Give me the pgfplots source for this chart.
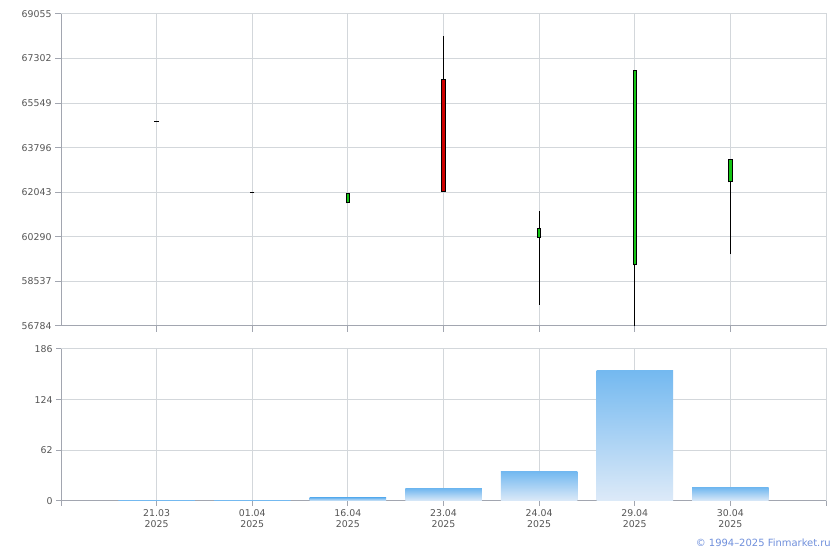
\documentclass[border=0pt]{standalone}
\usepackage{fontspec}
\setmainfont{DejaVu Sans}
\usepackage{pgfplots}
\usepackage{pgfplotstable}
\pgfplotsset{compat=1.18}

\definecolor{gridgray}{HTML}{D3D7DB}
\definecolor{axisgray}{HTML}{A2A6B0}
\definecolor{labelgray}{HTML}{555555}
\definecolor{upgreen}{HTML}{14C414}
\definecolor{downred}{HTML}{CC0000}
\definecolor{bartop}{HTML}{74B9F0}
\definecolor{barbottom}{HTML}{DDEAF8}
\definecolor{copyblue}{HTML}{7090DC}

% daily candles: open, high, low, close
\pgfplotstableread{
x open  high  low   close
0 64835 64835 64835 64835
1 62040 62040 62040 62040
2 61610 62003 61610 62003
3 66486 68202 62067 62067
4 60258 61307 57610 60626
5 59170 66840 56784 66840
6 62435 63339 59603 63339
}\candles

% rising bodies (close above open)
\pgfplotstableread{
x open  close
2 61610 62003
4 60258 60626
5 59170 66840
6 62435 63339
}\upbodies

% falling bodies (close below open)
\pgfplotstableread{
x open  close
3 66486 62067
}\downbodies

% flat days (open equals close)
\pgfplotstableread{
x price
0 64835
1 62040
}\flatdays

\pgfplotsset{
  finstyle/.style={
    scale only axis,
    anchor=south west,
    width=765bp,
    xmin=-1, xmax=7,
    axis x line*=bottom,
    axis y line*=left,
    axis line style={axisgray, line width=1bp},
    grid=major,
    major grid style={gridgray, line width=1bp},
    tick align=outside,
    xtick pos=lower, ytick pos=left,
    major tick length=6bp,
    tick style={axisgray, line width=1bp},
    ticklabel style={font=\fontsize{9.4}{11.5}\selectfont, text=labelgray},
    scaled y ticks=false,
    clip=false,
    after end axis/.code={
      \draw[gridgray, line width=1bp] (rel axis cs:0,1) -- (rel axis cs:1,1) -- (rel axis cs:1,0);
    },
  },
  segment/.style={
    draw=none, mark=none,
    error bars/.cd, y dir=plus, y explicit, error mark=none,
    error bar style={#1},
  },
  volbar/.style={
    ybar, bar shift=0pt, bar width=0.8, draw=none,
    top color=bartop, bottom color=barbottom,
  },
}

\begin{document}
\begin{tikzpicture}
\useasboundingbox[fill=white] (0,0) rectangle (840bp,550bp);

% price candles
\begin{axis}[finstyle,
  at={(61bp,224bp)}, height=312bp,
  ymin=56784, ymax=69055,
  ytick={56784,58537,60290,62043,63796,65549,67302,69055},
  yticklabels={56784,58537,60290,62043,63796,65549,67302,69055},
  xtick={0,...,6}, xticklabels={},
]
% wicks
\addplot[segment={draw=black, line width=1bp}]
  table[x=x, y=low, y error plus expr=\thisrow{high}-\thisrow{low}] {\candles};
% body outlines
\addplot[segment={draw=black, line width=4.5bp}]
  table[x=x, y=open, y error plus expr=\thisrow{close}-\thisrow{open}] {\upbodies};
\addplot[segment={draw=black, line width=4.5bp}]
  table[x=x, y=close, y error plus expr=\thisrow{open}-\thisrow{close}] {\downbodies};
% body fills
\addplot[segment={draw=upgreen, line width=2.5bp, shorten <=1bp, shorten >=1bp}]
  table[x=x, y=open, y error plus expr=\thisrow{close}-\thisrow{open}] {\upbodies};
\addplot[segment={draw=downred, line width=2.5bp, shorten <=1bp, shorten >=1bp}]
  table[x=x, y=close, y error plus expr=\thisrow{open}-\thisrow{close}] {\downbodies};
% flat days
\addplot[only marks, mark=-, mark size=2.2bp, mark options={black, line width=1bp}]
  table[x=x, y=price] {\flatdays};
\end{axis}

% traded volume, one shaded bar per day
\begin{axis}[finstyle,
  at={(61bp,49bp)}, height=152bp,
  ymin=0, ymax=186,
  ytick={0,62,124,186},
  yticklabels={0,62,124,186},
  xtick={-1,0,...,7},
  major tick length=5bp,
  xticklabels={,{21.03\\2025},{01.04\\2025},{16.04\\2025},{23.04\\2025},{24.04\\2025},{29.04\\2025},{30.04\\2025},},
  xticklabel style={align=center},
]
\addplot[volbar] coordinates {(0,1.2)};
\addplot[volbar] coordinates {(1,1.2)};
\addplot[volbar] coordinates {(2,3.7)};
\addplot[volbar] coordinates {(3,14.7)};
\addplot[volbar] coordinates {(4,35.6)};
\addplot[volbar] coordinates {(5,159.4)};
\addplot[volbar] coordinates {(6,16)};
\end{axis}

\node[anchor=east, text=copyblue, font=\fontsize{10}{12}\selectfont, inner sep=0pt]
  at (831bp,7bp) {© 1994–2025 Finmarket.ru};
\end{tikzpicture}
\end{document}
